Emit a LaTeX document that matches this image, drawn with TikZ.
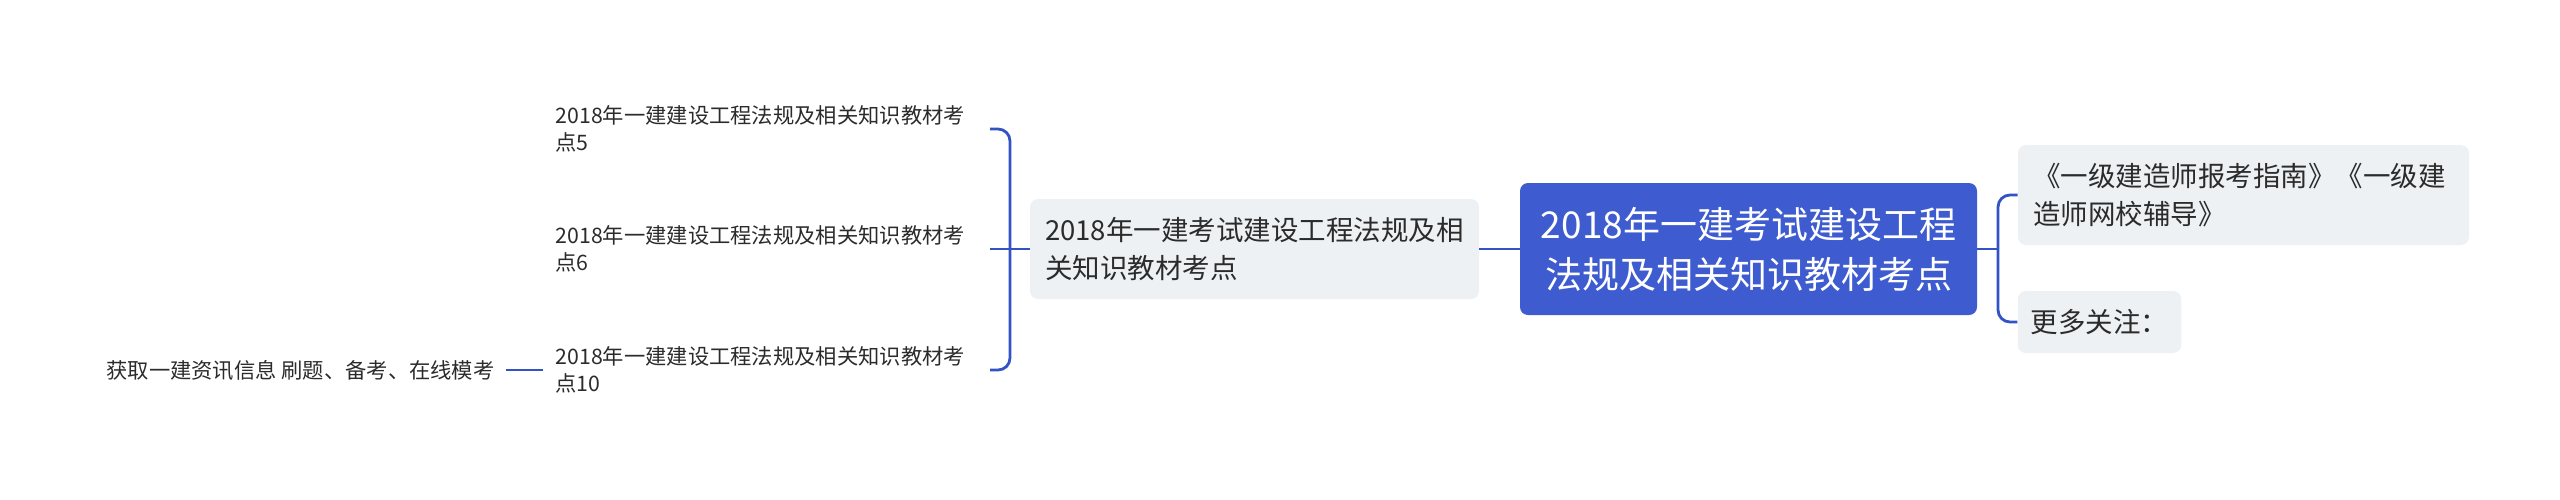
\documentclass[tikz,border=0pt]{standalone}
\usepackage{fontspec}
\setmainfont{Noto Sans CJK SC}
\definecolor{rootblue}{HTML}{3E5CCF}
\definecolor{linkblue}{HTML}{3352C4}
\definecolor{lightbox}{HTML}{EEF1F4}
\definecolor{txt}{HTML}{2B2B2B}
\tikzset{
  rootbox/.style={fill=rootblue, text=white, rounded corners=4pt, align=center,
    minimum width=228.5pt, minimum height=66pt, inner sep=0pt,
    font=\fontsize{18.5pt}{25pt}\selectfont},
  lvlbox/.style={fill=lightbox, text=txt, rounded corners=4pt, align=left,
    inner xsep=7.5pt, inner ysep=0pt, minimum height=50pt,
    font=\fontsize{13.75pt}{19pt}\selectfont},
  leafbox/.style={text=txt, align=left, inner xsep=6pt, inner ysep=2pt,
    text width=211pt, font=\fontsize{10.65pt}{13.5pt}\selectfont},
  conn/.style={draw=linkblue, line width=1.4pt, rounded corners=6pt}
}
\begin{document}
\begin{tikzpicture}[x=0.5pt, y=-0.5pt]
\useasboundingbox (0,0) rectangle (2560,499);
% root
\node[rootbox] (root) at (1748.5,249) {2018年一建考试建设工程\\法规及相关知识教材考点};
% middle node
\node[lvlbox, text width=209.5pt, minimum width=224.5pt] (mid) at (1254.5,249)
  {2018年一建考试建设工程法规及相\\关知识教材考点};
% right side
\node[lvlbox, text width=210.5pt, minimum width=225.5pt] (b1) at (2243.5,195)
  {《一级建造师报考指南》《一级建\\造师网校辅导》};
\node[lvlbox, minimum height=31pt, minimum width=81.5pt, inner xsep=6.5pt] (b2) at (2099.5,322)
  {更多关注：};
% leaves
\node[leafbox, anchor=east] (l1) at (990,129) {2018年一建建设工程法规及相关知识教材考\\点5};
\node[leafbox, anchor=east] (l2) at (990,249) {2018年一建建设工程法规及相关知识教材考\\点6};
\node[leafbox, anchor=east] (l3) at (990,370) {2018年一建建设工程法规及相关知识教材考\\点10};
\node[text=txt, inner xsep=5.5pt, anchor=east, font=\fontsize{10.65pt}{13.5pt}\selectfont] (get) at (506,370)
  {获取一建资讯信息 刷题、备考、在线模考};
% junctions
\coordinate (rj) at (1998,249);
\coordinate (lj) at (1010,249);
% connectors
\draw[conn] (root.east) -- (rj);
\draw[conn] (b1.west) -| (rj) |- (b2.west);
\draw[conn] (mid.east) -- (root.west);
\draw[conn] (l2.east) -- (mid.west);
\draw[conn] (l1.east) -| (lj) |- (l3.east);
\draw[conn] (l3.west) -- (get.east);
\end{tikzpicture}
\end{document}
